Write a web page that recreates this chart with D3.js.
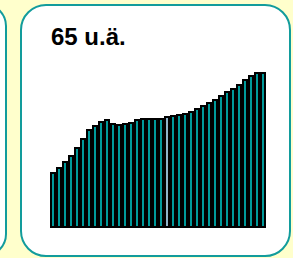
<!DOCTYPE html>
<html>
<head>
<meta charset="utf-8">
<script src="https://cdn.jsdelivr.net/npm/d3@7"></script>
<style>
  html, body { margin: 0; padding: 0; background: #ffffcc; }
  svg { display: block; }
</style>
</head>
<body>
<div id="container"></div>
<script>
// population aged 65 and over (relative units)
const title = "65 u.ä.";
const years = d3.range(36).map(i => "t" + (i + 1));
const values = [56, 61, 67, 73, 81, 90, 99, 103, 107, 109, 105, 104, 105, 106, 109, 110, 110, 110,
                110, 112, 113, 114, 115, 117, 120, 123, 126, 129, 133, 137, 140, 144, 149, 153, 156, 156];
const highlight = ["t20"];

const width = 293, height = 258;

const svg = d3.select("#container").append("svg")
  .attr("width", width)
  .attr("height", height);

svg.append("rect")
  .attr("width", width).attr("height", height)
  .attr("fill", "#ffffcc");

// neighbouring panel, cut off at the left edge
svg.append("rect")
  .attr("x", -40).attr("y", 4)
  .attr("width", 46).attr("height", 252)
  .attr("rx", 22)
  .attr("fill", "#fff")
  .attr("stroke", "#129c9c")
  .attr("stroke-width", 2);

// main panel
svg.append("rect")
  .attr("x", 21).attr("y", 5)
  .attr("width", 269).attr("height", 251)
  .attr("rx", 25)
  .attr("fill", "#fff")
  .attr("stroke", "#129c9c")
  .attr("stroke-width", 2);

svg.append("text")
  .attr("x", 51).attr("y", 45)
  .attr("font-family", "Liberation Sans, Arial, sans-serif")
  .attr("font-weight", "bold")
  .attr("font-size", 24)
  .attr("fill", "#000")
  .text(title);

const x = d3.scaleBand()
  .domain(years)
  .range([50, 266])
  .padding(0);

const y = d3.scaleLinear()
  .domain([0, 160])
  .range([228, 68]);

svg.append("g")
  .attr("stroke", "#000")
  .attr("stroke-width", 2)
  .selectAll("rect")
  .data(values)
  .join("rect")
  .attr("x", (d, i) => x(years[i]) + 1)
  .attr("width", x.bandwidth() - 2)
  .attr("y", d => y(d) + 1)
  .attr("height", d => y(0) - y(d) - 2)
  .attr("fill", (d, i) => highlight.includes(years[i]) ? "#8fb3c9" : "#009a9a");
</script>
</body>
</html>
